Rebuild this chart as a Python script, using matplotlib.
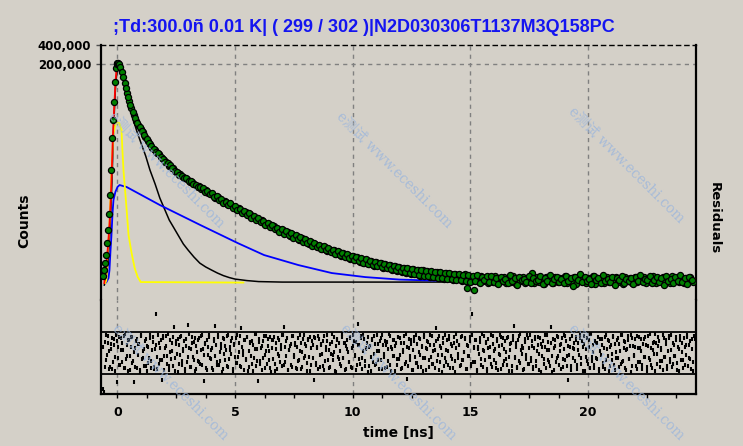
import numpy as np
import matplotlib
matplotlib.use("Agg")
import matplotlib.pyplot as plt
from matplotlib.ticker import NullLocator, MultipleLocator

# ---------------- data ----------------
title = ";Td:300.0ñ 0.01 K| ( 299 / 302 )|N2D030306T1137M3Q158PC"
x_ticks = [0, 5, 10, 15, 20]
x_ticklabels = ["0", "5", "10", "15", "20"]
y_ticks = [200000, 400000]
y_ticklabels = ["200,000", "400,000"]

# rising edge of the measured decay (ns, counts)
t_rise = [-0.60, -0.56, -0.52, -0.48, -0.44, -0.40, -0.36, -0.32, -0.28, -0.24,
          -0.20, -0.16, -0.12, -0.08, -0.04, 0.00, 0.04, 0.08, 0.12]
c_rise = [103, 128, 164, 219, 336, 536, 950, 1873, 4580, 14380,
          27370, 52100, 106500, 175700, 202700, 210100, 210100, 202700, 182100]

# decay part of the measured data (even channels)
c_decay_a = [
    152300, 102700, 71880, 54000, 42040, 32730, 26410, 22890, 19840, 17820,
    14900, 12920, 11600, 10060, 9363, 8411, 8115, 7034, 6548, 6096,
    5284, 5098, 4919, 4264, 4114, 3969, 3565, 3440, 3319, 2982,
    2982, 2776, 2584, 2584, 2321, 2240, 2240, 2012, 1941, 1873,
    1683, 1744, 1623, 1511, 1511, 1358, 1358, 1264, 1220, 1135,
    1177, 1057, 1020, 1020, 916, 950, 853, 823, 823, 739,
    766, 688, 664, 664, 597, 618, 555, 555, 517, 536,
    481, 499, 432, 464, 417, 432, 375, 402, 361, 375,
    325, 349, 313, 325, 292, 302, 271, 292, 253, 271,
    244, 262, 227, 244, 211, 235, 204, 219, 190, 211,
    183, 204, 170, 190, 164, 183, 159, 177, 148, 170,
    153, 164, 138, 159, 138, 153, 128, 148, 124, 143,
    119, 138, 115, 133, 111, 133, 111, 128, 103, 128,
    107, 124, 99.6, 119, 99.6, 119, 96.1, 115, 92.7, 115,
    96.1, 111, 89.5, 111, 92.7, 107, 86.3, 111, 67.2, 103,
    86.3, 62.6, 99.6, 83.3, 103, 86.3, 99.6, 80.4, 99.6, 83.3,
    103, 80.4, 96.1, 86.3, 99.6, 80.4, 96.1, 83.3, 103, 77.6,
    96.1, 86.3, 99.6, 80.4, 96.1, 83.3, 115, 80.4, 99.6, 83.3,
    96.1, 77.6, 99.6, 86.3, 96.1, 80.4, 99.6, 83.3, 96.1, 86.3,
    103, 80.4, 96.1, 83.3, 99.6, 77.6, 96.1, 86.3, 99.6, 80.4,
    96.1, 83.3, 103, 77.6, 96.1, 86.3, 96.1, 80.4, 99.6, 83.3,
    96.1, 80.4, 99.6, 83.3, 92.7, 77.6, 99.6, 86.3, 96.1, 80.4,
    99.6, 83.3, 96.1, 86.3, 99.6, 80.4, 96.1, 83.3, 103, 80.4,
    96.1, 86.3, 99.6, 83.3, 96.1, 80.4, 103, 86.3, 96.1, 83.3,
    99.6, 80.4, 96.1, 86.3, 99.6, 83.3,
]
# decay part of the measured data (odd channels)
c_decay_b = [
    127300, 85960, 62300, 46800, 36430, 29400, 24590, 21310, 18470, 16010,
    13870, 12030, 10800, 9704, 8717, 8411, 7290, 6787, 6096, 5882,
    5476, 4919, 4419, 4264, 3830, 3695, 3440, 3440, 3090, 3090,
    2776, 2678, 2493, 2493, 2406, 2085, 2161, 1941, 2012, 1744,
    1807, 1566, 1623, 1407, 1458, 1310, 1407, 1177, 1264, 1096,
    1135, 984, 1057, 916, 984, 823, 884, 766, 823, 713,
    739, 641, 688, 597, 641, 555, 576, 499, 555, 464,
    517, 448, 481, 402, 448, 388, 417, 349, 388, 336,
    361, 302, 336, 292, 313, 271, 302, 262, 281, 244,
    262, 227, 253, 219, 235, 204, 227, 197, 211, 183,
    204, 177, 197, 164, 190, 159, 177, 153, 170, 148,
    164, 143, 159, 138, 153, 133, 148, 128, 143, 124,
    138, 119, 138, 115, 133, 111, 128, 107, 128, 103,
    124, 103, 124, 99.6, 119, 96.1, 119, 96.1, 115, 92.7,
    115, 92.7, 111, 89.5, 111, 89.5, 107, 86.3, 107, 83.3,
    103, 86.3, 107, 80.4, 99.6, 89.5, 103, 83.3,
    103, 83.3, 96.1, 77.6, 99.6, 86.3, 92.7, 80.4, 107, 86.3,
    96.1, 74.9, 99.6, 89.5, 92.7, 83.3, 103, 80.4, 96.1, 86.3,
    89.5, 103, 77.6, 96.1, 86.3, 107, 80.4, 92.7, 99.6, 83.3,
    92.7, 80.4, 103, 86.3, 96.1, 72.2, 99.6, 89.5, 111, 83.3,
    99.6, 86.3, 92.7, 77.6, 103, 89.5, 96.1, 80.4, 107, 86.3,
    92.7, 83.3, 99.6, 74.9, 96.1, 89.5, 103, 80.4, 92.7, 86.3,
    96.1, 77.6, 99.6, 86.3, 107, 83.3, 92.7, 89.5, 103, 80.4,
    89.5, 99.6, 83.3, 96.1, 74.9, 103, 86.3, 92.7, 80.4, 99.6,
    86.3, 107, 83.3, 96.1, 77.6, 99.6, 89.5,
]
t_decay_a = np.linspace(0.2, 24.45, len(c_decay_a))
t_decay_b = np.linspace(0.2495, 24.40, len(c_decay_b))

# total fit (red)
t_fit = [-0.56, -0.52, -0.48, -0.44, -0.40, -0.36, -0.32, -0.28, -0.24, -0.20,
         -0.16, -0.12, -0.08, -0.04, 0.0, 0.05, 0.1, 0.2, 0.3, 0.4,
         0.6, 0.8, 1.0, 1.4, 2.0, 3.0, 4.0, 5.0, 6.0, 7.0,
         8.0, 10.0, 12.0, 14.0, 16.0, 18.0, 24.6]
c_fit = [80.4, 107, 148, 204, 313, 499, 884, 1807, 4580, 13390,
         29400, 58000, 110400, 169500, 202700, 210100, 202700, 152300, 106500, 71880,
         40560, 27370, 19840, 11200, 6548, 3260, 1941, 1220, 794, 526,
         368, 204, 135, 105, 94.4, 91.1, 91.1]

# fast component (black)
t_fast = [-0.56, -0.48, -0.40, -0.32, -0.24, -0.16, -0.08, 0.0, 0.05, 0.1,
          0.2, 0.3, 0.4, 0.5, 0.6, 0.7, 0.82, 1.0, 1.2, 1.38,
          1.6, 1.8, 2.0, 2.2, 2.4, 2.6, 2.8, 3.0, 3.25, 3.5,
          3.75, 4.0, 4.25, 4.5, 4.75, 5.0, 5.5, 6.0, 7.0, 24.6]
c_fast = [74.9, 96.1, 170, 499, 2678, 22890, 95690, 182100, 195600, 182100,
          136800, 99140, 71880, 50270, 35150, 25480, 18470, 12030, 7555, 4580,
          2776, 1683, 1135, 766, 576, 432, 325, 262, 204, 164,
          143, 128, 115, 105, 97.9, 92.7, 87.9, 84.8, 83.3, 83.3]

# slow component (blue)
t_slow = [-0.52, -0.47, -0.38, -0.34, -0.30, -0.26, -0.21, -0.17, -0.09, 0.0,
          0.09, 0.39, 1.80, 3.52, 5.11, 6.23, 7.69, 9.11, 10.53, 11.99,
          13.41, 15.0, 24.6]
c_slow = [80.4, 83.3, 96.1, 128, 244, 417, 984, 1566, 2085, 2493,
          2678, 2493, 1310, 641, 336, 219, 153, 115, 99.6, 91.1,
          87.9, 86.3, 86.3]

# instrument response (yellow)
t_irf = [-0.52, -0.47, -0.43, -0.34, -0.30, -0.26, -0.21, -0.17, -0.09, 0.0,
         0.07, 0.13, 0.17, 0.21, 0.26, 0.34, 0.39, 0.47, 0.60, 0.73,
         0.86, 0.99, 5.35]
c_irf = [80.4, 89.5, 197, 641, 1566, 3830, 9363, 17190, 22890, 24590,
         24590, 21310, 19140, 9363, 4264, 1873, 1096, 448, 235, 138,
         99.6, 83.3, 81.8]

# weighted residuals (even channels)
residuals_a = [
    -6.8, -7.4, 2.1, -1.3, 3.2, 0.4, -2.6, 1.8, -3.1, 2.7, -0.8, 3.4, -5.5, 1.1, -2.2, 2.9, -1.7, 0.6, 3.3, -2.9,
    1.5, -3.4, 2.4, -0.5, 3.0, -1.9, -5.6, 0.9, 2.2, -2.8, 1.7, -3.2, 3.5, -1.1, 0.3, -2.4, 2.6, -3.5, 1.2, -0.9,
    2.8, -1.6, 3.1, -2.7, 0.7, 7.4, -3.0, 1.9, -1.4, 2.5, -5.2, 3.2, -0.6, 1.4, -2.1, 3.6, -3.3, 0.2, 2.0, -2.5,
    4.9, -1.0, 2.3, -3.6, 1.6, -0.3, 3.3, -2.2, 0.8, -3.1, 2.7, -1.8, 5.3, 1.0, -2.6, 3.0, -0.7, 2.1, -3.4, 1.3,
    -1.5, 2.9, -2.0, 0.5, 3.4, -5.4, 1.8, -2.9, 2.4, -0.4, 3.1, -1.2, 0.9, -3.3, 2.2, 5.1, -1.7, 3.5, -2.3, 0.1,
    1.7, -3.0, 2.6, -1.4, 0.6, 3.2, -2.7, 1.2, -0.2, 2.8, -3.5, 1.5, -1.9, 3.4, -0.8, 2.0, -2.4, 4.8, 0.3, -3.2,
    2.5, -1.1, 3.0, -2.6, 1.9, -0.5, 2.3, -3.4, 0.7, 3.6, -1.6, -5.3, 2.1, -2.1, 1.4, -0.9, 3.3, -2.8, 0.4, 2.7,
    -1.3, 3.1, -3.6, 1.0, 2.4, -2.0, 0.8, -3.1, 2.9, -0.6, 1.6, -2.5, 3.5, 4.9, -1.8, 2.2, -3.3, 0.5, 1.3, -2.2,
    3.2, -0.4, 2.0, -2.9, 1.1, -1.5, 3.4, -3.0, 0.2, 2.6, -1.0, 1.8, -3.5, 2.5, -0.7, 3.0, -2.3, 1.5, -5.1, 2.8,
    -1.9, 0.9, 3.3, -2.7, 1.7, -0.1, 2.3, -3.2, 1.2, 3.5, -1.4, 0.6, -2.6, 2.1, -0.3, 3.1, -3.4, 1.4, 2.7, -1.2,
    0.3, -2.4, 3.6, -0.9, 1.9, -3.1, 2.4, 0.1, -1.7, 3.0, -2.9, 1.3, 2.2, -0.5, -3.3, 5.6, 1.6, -2.1, 2.9, -1.0,
    3.4, -2.5, 0.7, 2.0, -3.6, 1.1, -0.8, 2.6, -1.8, 3.2, -2.2, 0.4, 1.8, -3.0, 2.3, -1.3, 3.5, -0.2, -2.8, 1.5,
    2.1, -1.6, 3.3, -3.4, 0.8, 2.5, -0.6, 1.4, -2.3, 3.0, -1.1, 2.8, -3.1, 0.2, 1.9, -2.0, 3.6, -5.0, 1.0, -1.4,
    2.4, -3.2, 0.5, 3.1, -1.9, 1.7, -2.6, 2.9, -0.4, 1.2, -3.5, 3.4, -1.0, 0.9, 2.2, -2.7, 1.6, -0.7, 3.2, -2.1,
    0.6, 4.8, -1.5, 2.7, -3.3, 1.3, -0.3, 2.0, -2.4, 3.5, -1.7, 0.3, 2.6, -2.9, 1.8, -1.2, 3.0, -3.6, 0.9, 2.3,
    -0.9, 1.6, -2.2, 3.3, -1.4, 0.1, 2.8, -3.0, 1.4, -0.5, 3.1, -2.5, 7.5, 1.1, -1.8, 2.4, -3.3, 0.7, 2.1, -1.1,
    3.6, -2.7, 0.4, 1.9, -3.4, 2.6, -0.8, 1.2, -2.0, 3.2, -1.3, 0.8, -2.8, 2.2, -0.1, 3.4, -3.1, 1.5, 2.9, -1.6,
    0.2, -2.3, 3.0, -0.7, 1.7, -3.5, 2.5, 5.2, -1.0, 2.0, -2.6, 3.3, -1.9, 0.6, 1.3, -3.2, 2.7, -0.4, 3.5, -2.1,
    1.0, -1.5, 2.3, -3.0, 0.9, 3.1, -2.4, 1.6, -0.2, 2.8, -3.6, 1.2, -1.2, 3.4, -2.9, 0.5, 2.1, -1.7, 4.9, -0.6,
    2.6, -3.3, 1.4, -0.9, 3.0, -2.2, 0.3, 1.8, -2.7, 3.5, -1.4, 2.2, -0.5, -5.2, 1.1, -2.5, 3.2, -1.0, 0.7, 2.4,
    -3.1, 1.9, -0.3, 2.9, -2.0, 1.2, 3.3, -3.4, 0.8, -1.6, 2.5, -2.8, 3.6, -0.8, 1.5, -2.3, 2.0, -1.1, 3.1, -3.5,
    0.4, 2.7, -1.9, 1.0, -3.0, 3.4, -0.6, 2.2, -2.5, 1.6, -1.3, 3.0, -3.3, 0.2, 2.4, -0.9, 1.8, -2.1, 3.5, -1.5,
    2.3, -2.9, 0.6, 3.2, -1.2, 1.4, -3.6, 2.8, -0.4, 1.1, -2.4, 3.3, -1.8, 0.9, 2.6, -3.1, 1.7, -0.7, 3.0, -2.6,
    1.3, -1.0, 3.6, -2.2, 0.5, 2.1, -3.4, 1.9, -0.2, 3.1, -2.7, 1.0, -1.5, 3.4, -0.8, 2.5, -3.0, 0.3, 2.9, -1.7,
    3.5, -2.0, 1.6, -0.5, 2.4, -3.3, 0.8, 3.2, -1.4, 2.0, -2.9, 1.2, -0.3, 3.0, -2.4, 1.5, -1.1, 2.7, -3.5, 3.3,
]
# weighted residuals (odd channels)
residuals_b = [
    1.2, -2.6, 3.4, -0.4, 2.0, -3.1, 0.7, 2.9, -1.8, 1.5, -3.5, 2.3, -0.9, 3.1, -2.2, 0.5, 1.9, -2.9, 3.6, -1.2,
    -0.6, 2.5, -3.3, 1.1, 3.0, -1.5, 0.2, -2.7, 2.7, -0.3, 1.8, -3.6, 3.2, -1.0, 0.8, 2.2, -2.4, 1.3, -1.9, 3.4,
    -2.8, 0.6, 2.1, -3.0, 1.6, -0.7, 3.5, -2.1, 0.9, -1.4, 2.8, -3.2, 1.0, 3.3, -0.5, -2.5, 2.4, -1.1, 0.4, 3.1,
    -3.4, 1.7, -0.2, 2.6, -2.0, 3.0, -1.6, 0.3, 2.2, -3.5, 1.4, -0.8, 3.6, -2.6, 0.7, 1.9, -1.3, 2.9, -3.1, 0.1,
    2.4, -1.7, 3.3, -2.3, 0.8, -0.4, 2.0, -3.3, 1.2, 3.4, -1.0, 0.5, -2.9, 2.6, -0.6, 1.6, -2.2, 3.1, -1.5, 0.9,
    -3.6, 2.8, -0.1, 1.3, -2.4, 3.5, -1.2, 0.6, 2.3, -3.0, 1.8, -0.7, 2.9, -1.9, 0.2, 3.2, -2.7, 1.1, -0.3, 2.5,
    -1.4, 3.0, -3.4, 0.4, 2.1, -2.1, 1.5, -0.9, 3.6, -2.5, 0.7, 2.7, -1.6, 1.0, -3.2, 2.2, -0.4, 3.3, -2.0, 1.4,
    0.3, -2.8, 2.5, -1.1, 3.1, -3.5, 1.9, -0.2, 2.4, -1.7, 0.8, 3.4, -2.3, 1.2, -0.6, 2.8, -3.3, 0.5, 1.7, -2.6,
    3.2, -0.8, 1.6, -3.1, 2.9, -1.3, 0.4, 2.0, -2.6, 3.5, -0.5, 1.3, -1.9, 2.6, -3.4, 0.9, 2.2, -1.0, 3.0, -2.2,
    1.1, -3.0, 2.7, -0.3, 1.5, -2.4, 3.3, -1.5, 0.6, 2.3, -2.8, 1.8, -0.1, 3.6, -1.3, 0.2, -3.6, 2.4, -0.7, 1.9,
    -2.1, 3.1, -0.9, 2.0, -3.2, 1.4, 0.7, -1.8, 2.9, -2.7, 1.0, 3.5, -0.4, 2.1, -2.3, 1.6, -1.1, 3.2, -3.0, 0.4,
    2.6, -1.6, 0.9, 3.0, -2.5, 1.3, -3.4, 2.5, -0.2, 1.7, -2.0, 3.4, -1.4, 0.3, 2.8, -3.1, 1.5, -0.8, 2.2, -2.7,
    0.8, 3.6, -2.2, 1.2, -0.6, 2.4, -3.5, 1.9, -1.2, 3.1, -0.3, 2.0, -2.9, 0.6, 3.3, -1.7, 1.1, -2.4, 2.7, -0.5,
    1.8, -3.3, 2.3, -0.7, 3.4, -1.9, 0.1, 2.6, -2.6, 1.4, -0.9, 3.0, -3.2, 0.8, 2.1, -1.4, 3.5, -2.1, 0.3, 1.6,
    -2.9, 2.2, -0.4, 3.2, -1.8, 1.0, -3.6, 2.8, -1.0, 0.5, 2.5, -2.3, 3.3, -0.6, 1.3, -2.8, 2.0, -1.5, 3.6, -0.2,
    1.5, -2.5, 3.0, -1.3, 0.2, 2.7, -3.1, 1.6, -0.5, 2.2, -2.0, 3.4, -1.7, 0.9, 2.4, -3.4, 1.2, -0.1, 2.9, -2.3,
    0.6, 3.2, -1.4, 2.1, -3.0, 1.0, -0.8, 3.5, -2.6, 1.7, 0.3, -1.9, 2.6, -3.3, 1.4, -0.4, 3.1, -2.2, 0.7, 2.3,
    -1.2, 2.9, -3.5, 0.5, 1.9, -2.4, 3.3, -0.7, 1.1, -2.9, 2.4, -1.5, 3.6, -0.2, 0.9, -3.0, 2.1, -1.1, 2.8, -2.0,
    3.4, -0.9, 1.4, -2.7, 2.6, -1.6, 0.4, 3.0, -3.3, 1.8, -0.6, 2.2, -2.1, 1.2, 3.5, -1.3, 0.6, -2.5, 2.0, -3.6,
    1.0, 2.5, -1.8, 3.2, -0.5, 1.5, -3.0, 2.9, -1.2, 0.7, 3.3, -2.4, 1.3, -0.3, 2.6, -3.2, 0.9, 2.0, -1.6, 3.1,
    -2.2, 0.5, 3.4, -1.0, 2.2, -3.4, 1.7, -0.7, 2.8, -2.0, 1.1, 3.6, -1.5, 0.2, -2.8, 2.3, -0.9, 1.9, -3.1, 2.7,
    -0.4, 1.6, -2.6, 3.0, -1.4, 0.8, 2.5, -3.5, 1.2, -0.1, 3.2, -2.3, 1.8, -1.0, 2.9, -2.7, 0.4, 3.4, -1.8, 1.0,
    2.1, -3.2, 0.7, 2.4, -1.1, 3.5, -2.5, 1.4, -0.6, 2.7, -3.0, 1.0, 3.1, -1.7, 0.3, -2.2, 2.6, -0.8, 1.5, -3.4,
    3.3, -1.3, 0.9, -2.9, 2.0, -0.2, 3.6, -2.1, 1.3, 2.3, -1.6, 0.5, -3.3, 2.8, -0.7, 1.7, -2.5, 3.2, -1.1, 0.6,
    -2.7, 2.0, -0.5, 3.1, -1.9, 1.2, -3.4, 2.5, 0.1, -1.4, 2.8, -2.2, 1.6, 3.4, -0.9, 2.2, -3.0, 0.8, -1.7, 2.6,
]
t_res_a = np.linspace(-0.62, 24.50, len(residuals_a))
t_res_b = np.linspace(-0.595, 24.525, len(residuals_b))
res_limits = [-4, 4]

watermark = "e测试 www.eceshi.com"

# ---------------- styling ----------------
BG = "#D4D0C8"
plt.rcParams["font.family"] = ["DejaVu Sans"]
plt.rcParams["font.weight"] = "bold"

W, H = 743, 446
fig = plt.figure(figsize=(W / 100, H / 100), dpi=100, facecolor=BG)


def fx(px):
    return px / W


def fy(py):
    return 1 - py / H


ax = fig.add_axes([fx(101), fy(300), fx(696) - fx(101), fy(45) - fy(300)])
axr = fig.add_axes([fx(101), fy(394), fx(696) - fx(101), fy(300) - fy(394)])

for a in (ax, axr):
    a.set_facecolor(BG)
    a.set_xlim(-0.70, 24.585)
    a.set_xticks(x_ticks)
    a.grid(axis="x", color="#808080", linestyle=(0, (3, 3)), linewidth=1.0)
    a.set_axisbelow(True)

# --- decay panel ---
ax.set_yscale("log")
ax.set_ylim(43.9, 400000)
ax.yaxis.set_minor_locator(NullLocator())
ax.set_yticks(y_ticks)
ax.set_yticklabels(y_ticklabels)
ax.tick_params(axis="y", which="major", direction="out", length=3.5, width=1,
               color="#505050", pad=3.5, labelsize=8.5)
ax.tick_params(axis="x", length=0, labelbottom=False)
ax.axhline(200000, color="#808080", linestyle=(0, (3, 3)), linewidth=1.0, zorder=1)

ax.plot(t_fast, c_fast, color="black", lw=1.1, zorder=2)
ax.plot(t_slow, c_slow, color="#0000FF", lw=1.3, zorder=3)
ax.plot(t_irf, c_irf, color="#FFFF00", lw=1.3, zorder=4)
ax.plot(t_fit, c_fit, color="#FF0000", lw=1.3, zorder=5)
marker_style = dict(ls="none", marker="o", ms=4.4, mfc="#008000", mec="black",
                    mew=0.9, zorder=6)
ax.plot(t_rise, c_rise, **marker_style)
ax.plot(t_decay_a, c_decay_a, **marker_style)
ax.plot(t_decay_b, c_decay_b, **marker_style)

ax.spines["bottom"].set_visible(False)
ax.spines["top"].set_linestyle((0, (3, 3)))
ax.spines["top"].set_linewidth(1.0)
for s in ("left", "right"):
    ax.spines[s].set_linewidth(1.6)

# --- residual panel ---
axr.set_ylim(-7.81, 10.1)
axr.set_yticks([])
axr.xaxis.set_minor_locator(MultipleLocator(1.25))
axr.set_xticklabels(x_ticklabels)
axr.tick_params(axis="x", which="both", direction="out", length=3, width=1,
                color="black", pad=6, labelsize=9)
for lim in res_limits:
    axr.axhline(lim, color="black", lw=1.3, zorder=2)
res_style = dict(ls="none", marker="|", ms=2.2, mew=1.5, color="black", zorder=3)
axr.plot(t_res_a, residuals_a, **res_style)
axr.plot(t_res_b, residuals_b, **res_style)
axr.spines["top"].set_visible(False)
for s in ("left", "right", "bottom"):
    axr.spines[s].set_linewidth(1.6)

# --- texts ---
fig.text(fx(113), fy(27), title, color="#1414F0", fontsize=13,
         family=["Liberation Sans", "DejaVu Sans"], weight="bold",
         ha="left", va="center")
fig.text(fx(398.5), fy(433), "time [ns]", ha="center", va="center",
         fontsize=10, weight="bold")
fig.text(fx(24), fy(221), "Counts", ha="center", va="center", rotation=90,
         fontsize=10, weight="bold")
fig.text(fx(714), fy(218), "Residuals", ha="center", va="center", rotation=-90,
         fontsize=9.5, weight="bold")

for cx, cy in [(166, 170), (394, 170), (626, 165), (170, 382), (398, 382), (626, 382)]:
    fig.text(fx(cx), fy(cy), watermark, rotation=-45, rotation_mode="anchor",
             ha="center", va="center", fontsize=10, weight="normal",
             color="#9CB6DC", alpha=0.8,
             family=["DejaVu Serif", "Noto Sans CJK SC"])

fig.savefig("out.png", dpi=100, facecolor=BG)
